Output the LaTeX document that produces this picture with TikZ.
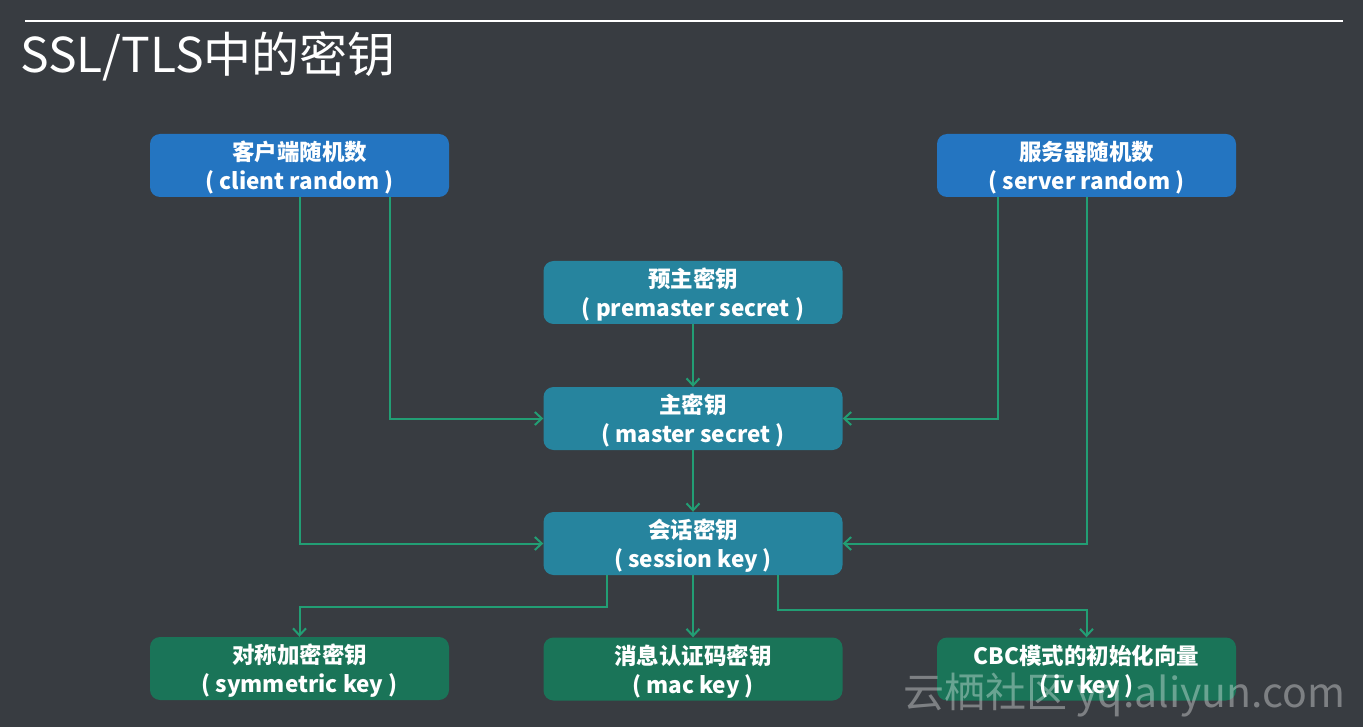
\documentclass[tikz,border=0pt]{standalone}
\usepackage{fontspec}
\setmainfont{Noto Sans CJK SC}
\usepackage{tikz}
\usetikzlibrary{positioning,arrows.meta,calc}
\definecolor{bgcol}{RGB}{56,60,65}
\definecolor{randcol}{RGB}{36,117,193}
\definecolor{secretcol}{RGB}{38,132,158}
\definecolor{keycol}{RGB}{26,116,88}
\definecolor{linkcol}{RGB}{34,158,116}
\tikzset{
    x=1pt, y=-1pt,
    box/.style = {
        shape=rectangle,
        rounded corners=10pt,
        minimum width=299pt,
        minimum height=63pt,
        inner sep=0pt,
        text depth=0pt,
        align=center,
        text=white,
        font=\fontsize{22.5}{29}\selectfont\bfseries
    },
    randbox/.style = {box, fill=randcol},
    secretbox/.style = {box, fill=secretcol},
    keybox/.style = {box, fill=keycol},
    link/.style = {
        draw=linkcol,
        line width=2pt,
        -{Straight Barb[length=7pt,width=13pt,line width=2pt]}
    },
}
\begin{document}
\begin{tikzpicture}
                \fill[bgcol] (0,0) rectangle (1363,727);
                \useasboundingbox (0,0) rectangle (1363,727);

                % title
                \coordinate (rulestart) at (25,21);
                \coordinate (ruleend) at (1343,21);
                \path[draw, white, line width=1.5pt] (rulestart) -- (ruleend);
                \node[anchor=base west, inner sep=0pt, text=white, font=\fontsize{48}{50}\selectfont] (title) at (20,73) {SSL/TLS中的密钥};

                \node[randbox] (client) at (299.5,165.5) {客户端随机数\\( client random )};
                \node[randbox] (server) at (1086.5,165.5) {服务器随机数\\( server random )};
                \node[secretbox] (premaster) at (693,292.5) {预主密钥\\( premaster secret )};
                \node[secretbox] (master) at (693,418.5) {主密钥\\( master secret )};
                \node[secretbox] (session) at (693,543.5) {会话密钥\\( session key )};
                \node[keybox] (symkey) at (299.5,668.5) {对称加密密钥\\( symmetric key )};
                \node[keybox] (mackey) at (693,669) {消息认证码密钥\\( mac key )};
                \node[keybox] (ivkey) at (1086.5,669) {CBC模式的初始化向量\\( iv key )};

                \path[link] ($(client.south)+(90,0)$) |- (master.west);
                \path[link] (client.south) |- (session.west);
                \path[link] ($(server.south)+(-89,0)$) |- (master.east);
                \path[link] (server.south) |- (session.east);
                \path[link] (premaster) -- (master);
                \path[link] (master) -- (session);
                \path[link] ($(session.south)+(-86,0)$) -- ++(0,32) -| (symkey.north);
                \path[link] (session) -- (mackey);
                \path[link] ($(session.south)+(85,0)$) -- ++(0,35) -| (ivkey.north);

                % watermark
                \node[anchor=base west, inner sep=0pt, text=white, opacity=0.35, font=\fontsize{41}{44}\selectfont] (mark) at (903,707) {云栖社区 yq.aliyun.com};
            \end{tikzpicture}
\end{document}
